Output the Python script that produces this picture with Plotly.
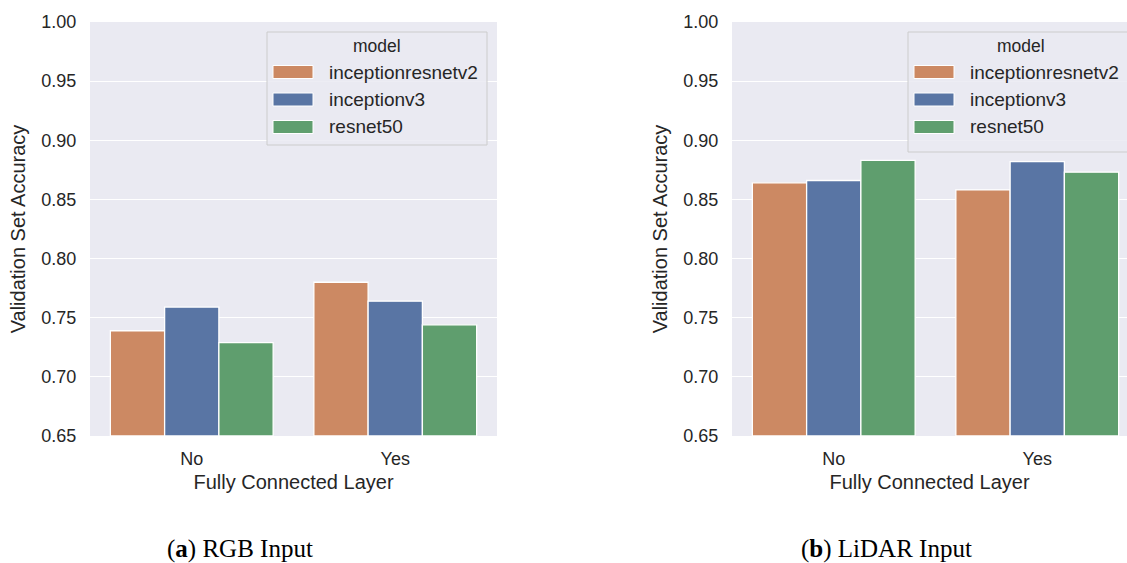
import plotly.graph_objects as go

categories = ["No", "Yes"]
models = ["inceptionresnetv2", "inceptionv3", "resnet50"]
rgb_acc = {
    "inceptionresnetv2": [0.739, 0.780],
    "inceptionv3": [0.759, 0.764],
    "resnet50": [0.729, 0.744],
}
lidar_acc = {
    "inceptionresnetv2": [0.864, 0.858],
    "inceptionv3": [0.866, 0.882],
    "resnet50": [0.883, 0.873],
}
colors = {"inceptionresnetv2": "#CC8963", "inceptionv3": "#5975A4", "resnet50": "#5F9E6E"}
yticks = [0.65, 0.70, 0.75, 0.80, 0.85, 0.90, 0.95, 1.00]
captions = [("a", "RGB Input"), ("b", "LiDAR Input")]

W, H = 1127, 563
BG = "#EAEAF2"
FONT = "Liberation Sans, Arial, sans-serif"

fig = go.Figure()
for panel, (data, xa, ya) in enumerate([(rgb_acc, "x", "y"), (lidar_acc, "x2", "y2")]):
    for m in models:
        fig.add_trace(go.Bar(
            x=categories, y=[v - 0.65 for v in data[m]], base=0.65,
            name=m, xaxis=xa, yaxis=ya, offsetgroup=m,
            marker=dict(color=colors[m], line=dict(color="white", width=1.3)),
            showlegend=False, hoverinfo="skip",
        ))

def px(x):
    return x / W

def py(y):
    return 1 - y / H

ydom = [py(436), py(22)]
axis_common = dict(
    showgrid=True, gridcolor="white", gridwidth=1.3, zeroline=False, automargin=False,
    showline=False, tickfont=dict(size=18, color="#262626", family=FONT),
    ticks="outside", ticklen=9, tickcolor="rgba(0,0,0,0)",
)
xcommon = dict(axis_common, showgrid=False, type="category", ticklen=6,
               title=dict(text="Fully Connected Layer", font=dict(size=20, color="#262626", family=FONT), standoff=7))
ycommon = dict(axis_common, range=[0.65, 1.0], tickvals=yticks, tickformat=".2f",
               title=dict(text="Validation Set Accuracy", font=dict(size=20, color="#262626", family=FONT), standoff=10))

fig.update_layout(
    width=W, height=H, margin=dict(l=0, r=0, t=0, b=0, pad=0),
    paper_bgcolor="white", plot_bgcolor=BG,
    barmode="group", bargap=0.2, bargroupgap=0,
    font=dict(family=FONT, color="#262626"),
    xaxis=dict(xcommon, domain=[px(90), px(497)], range=[-0.5, 1.5], anchor="y"),
    yaxis=dict(ycommon, domain=ydom, anchor="x"),
    xaxis2=dict(xcommon, domain=[px(732), 1.0], range=[-0.5, -0.5 + 395 / 203.5], anchor="y2"),
    yaxis2=dict(ycommon, domain=ydom, anchor="x2"),
)

# legends (seaborn style) drawn per panel
legend_boxes = [(267, 32, 487, 145), (908, 32, 1140, 152)]
for (x0, y0, x1, y1) in legend_boxes:
    fig.add_shape(type="rect", xref="paper", yref="paper",
                  x0=px(x0), x1=px(x1), y0=py(y1), y1=py(y0),
                  fillcolor="rgba(234,234,242,0.85)", line=dict(color="#CCCCCC", width=1), layer="above")
    fig.add_annotation(xref="paper", yref="paper", x=px((x0 + min(x1, 1133)) / 2), y=py(46),
                       text="model", showarrow=False, font=dict(size=17.5, color="#262626", family=FONT),
                       xanchor="center", yanchor="middle")
    for i, m in enumerate(models):
        yc = 72 + i * 27.5
        fig.add_shape(type="rect", xref="paper", yref="paper",
                      x0=px(x0 + 6), x1=px(x0 + 46), y0=py(yc + 6.5), y1=py(yc - 6.5),
                      fillcolor=colors[m], line=dict(color="white", width=1), layer="above")
        fig.add_annotation(xref="paper", yref="paper", x=px(x0 + 60), y=py(yc),
                           text=m, showarrow=False, font=dict(size=19, color="#262626", family=FONT),
                           xanchor="left", yanchor="middle")

for (letter, label), xc in zip(captions, [240, 887]):
    fig.add_annotation(xref="paper", yref="paper", x=px(xc), y=py(549),
                       text=f"(<b>{letter}</b>) {label}", showarrow=False,
                       font=dict(size=25, color="black", family="Liberation Serif, serif"),
                       xanchor="center", yanchor="middle")

fig.write_html("out.html", config={"displayModeBar": False},
               post_script="document.body.style.margin='0';document.body.style.overflow='hidden';")
